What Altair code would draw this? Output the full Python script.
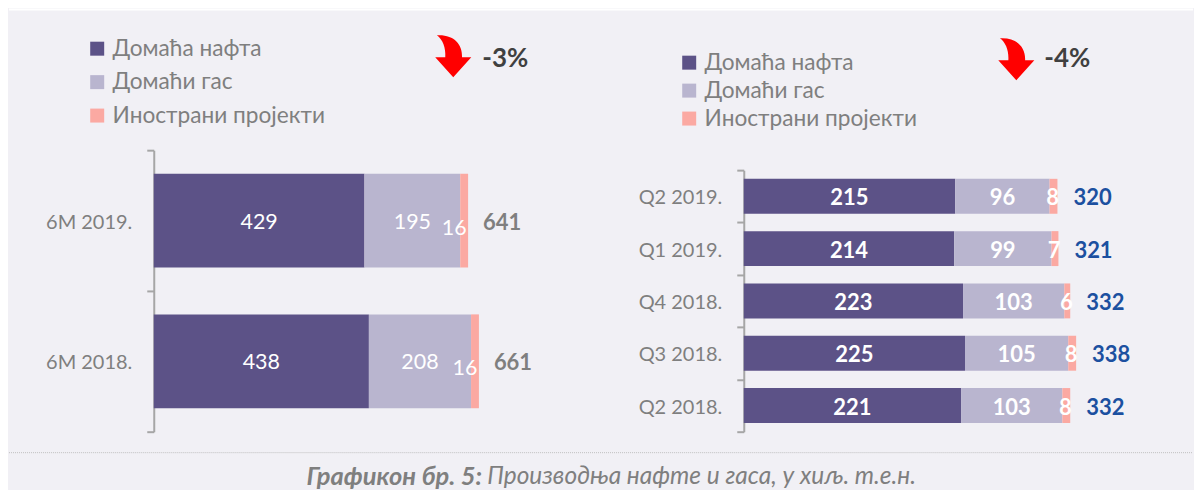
import altair as alt
import pandas as pd

FONT = "Lato"
series = ["Домаћа нафта", "Домаћи гас", "Инострани пројекти"]
colors = ["#5c5287", "#b9b5cf", "#fba9a2"]

left_periods = ["6М 2019.", "6М 2018."]
left_oil = [429, 438]
left_gas = [195, 208]
left_foreign = [16, 16]
left_total = [641, 661]

right_periods = ["Q2 2019.", "Q1 2019.", "Q4 2018.", "Q3 2018.", "Q2 2018."]
right_oil = [215, 214, 223, 225, 221]
right_gas = [96, 99, 103, 105, 103]
right_foreign = [8, 7, 6, 8, 8]
right_total = [320, 321, 332, 338, 332]

left_change = "-3%"
right_change = "-4%"
caption_bold = "Графикон бр. 5:"
caption_text = "Производња нафте и гаса, у хиљ. т.е.н."

ARROW = ("M -0.78,-1 C 0,-1.05 0.45,-0.6 0.42,0.05 L 0.86,0.05 L 0,1 L -0.86,0.05 "
         "L -0.38,0.05 C -0.35,-0.4 -0.5,-0.8 -0.78,-1 Z")


def segments(periods, oil, gas, foreign):
    rows = []
    for i, p in enumerate(periods):
        start = 0
        for s, v in zip(series, (oil[i], gas[i], foreign[i])):
            rows.append({"period": p, "series": s, "value": v, "start": start,
                         "end": start + v, "mid": start + v / 2})
            start += v
    return pd.DataFrame(rows)


def totals(periods, oil, gas, foreign, total):
    return pd.DataFrame({"period": periods, "total": total,
                         "end": [a + b + c for a, b, c in zip(oil, gas, foreign)]})


def panel(periods, oil, gas, foreign, total, change, *, width, height, x0, xmax, yrange, bar,
          legend_x, legend_y, row_pad, label_weight, label_size, total_color,
          total_size, small_dx, small_dy, total_dx, arrow_xy, change_xy):
    df = segments(periods, oil, gas, foreign)
    tdf = totals(periods, oil, gas, foreign, total)
    x_scale = alt.Scale(domain=[0, xmax], range=[x0, width], nice=False, zero=True)
    y = alt.Y("period:N", sort=periods, scale=alt.Scale(range=yrange, paddingInner=0, paddingOuter=0),
              axis=alt.Axis(title=None, offset=-x0, domainColor="#a6a6a6", domainWidth=2, tickColor="#a6a6a6",
                            tickWidth=2, tickSize=7, tickBand="extent", labelFont=FONT, labelFontSize=20,
                            labelColor="#7f7f7f", labelPadding=15, labelOffset=1.5, grid=False))
    bars = alt.Chart(df).mark_bar(size=bar).encode(
        x=alt.X("start:Q", scale=x_scale, axis=None), x2="end:Q", y=y,
        color=alt.Color("series:N", scale=alt.Scale(domain=series, range=colors),
                        legend=alt.Legend(title=None, orient="none", legendX=legend_x, legendY=legend_y,
                                          symbolType="square", symbolSize=196, symbolStrokeWidth=0,
                                          labelFont=FONT, labelFontSize=22.7, labelColor="#7f7f7f",
                                          labelOffset=4, labelLimit=400, rowPadding=row_pad)),
        order=alt.Order("start:Q"))
    big = alt.Chart(df[df.series != series[2]]).mark_text(
        font=FONT, fontSize=label_size, fontWeight=label_weight, color="white", dy=2
    ).encode(x=alt.X("mid:Q", scale=x_scale, axis=None), y=alt.Y("period:N", sort=periods), text="value:Q")
    small = alt.Chart(df[df.series == series[2]]).mark_text(
        font=FONT, fontSize=label_size, fontWeight=label_weight, color="white", dx=small_dx, dy=small_dy
    ).encode(x=alt.X("mid:Q", scale=x_scale, axis=None), y=alt.Y("period:N", sort=periods), text="value:Q")
    tot = alt.Chart(tdf).mark_text(
        font=FONT, fontSize=total_size, fontWeight="bold", color=total_color, align="left", dx=total_dx, dy=2
    ).encode(x=alt.X("end:Q", scale=x_scale, axis=None), y=alt.Y("period:N", sort=periods), text="total:Q")
    one = pd.DataFrame({"label": [change]})
    arrow = alt.Chart(one).mark_point(shape=ARROW, filled=True, color="#ff0000", opacity=1, size=1764, strokeWidth=0
                                      ).encode(x=alt.value(arrow_xy[0]), y=alt.value(arrow_xy[1]))
    pct = alt.Chart(one).mark_text(font=FONT, fontSize=26, fontWeight="bold", color="#404040", align="left"
                                   ).encode(x=alt.value(change_xy[0]), y=alt.value(change_xy[1]), text="label:N")
    return alt.layer(bars, big, small, tot, arrow, pct).properties(width=width, height=height)


left = panel(left_periods, left_oil, left_gas, left_foreign, left_total, left_change,
             width=592, height=432, x0=145, xmax=(592 - 145) / 0.492, yrange=[130, 412], bar=94,
             legend_x=77, legend_y=17, row_pad=9.5, label_weight="normal", label_size=21.5,
             total_color="#7f7f7f", total_size=22, small_dx=-10, small_dy=8, total_dx=15,
             arrow_xy=(445, 36), change_xy=(474, 39))
right = panel(right_periods, right_oil, right_gas, right_foreign, right_total, right_change,
              width=594, height=432, x0=144, xmax=(594 - 144) / 0.985, yrange=[150, 412], bar=35,
              legend_x=78, legend_y=31, row_pad=4, label_weight="bold", label_size=22,
              total_color="#1c50a0", total_size=22, small_dx=-1, small_dy=2, total_dx=16,
              arrow_xy=(417, 39), change_xy=(445, 39))

top = alt.Chart(pd.DataFrame({"a": [0]})).mark_rule(color="white", strokeWidth=2).encode(
    x=alt.value(0), x2=alt.value(1186), y=alt.value(1)).properties(width=1186, height=2)

cap = pd.DataFrame({"bold": [caption_bold], "text": [caption_text]})
foot_rule = alt.Chart(cap).mark_rule(color="#bfbfbf", strokeWidth=1, strokeDash=[1, 1]).encode(
    x=alt.value(0), x2=alt.value(1186), y=alt.value(1))
foot_a = alt.Chart(cap).mark_text(font=FONT, fontSize=25.5, fontWeight="bold", fontStyle="italic", color="#7f7f7f",
                                  align="right").encode(x=alt.value(474), y=alt.value(25), text="bold:N")
foot_b = alt.Chart(cap).mark_text(font=FONT, fontSize=24.5, fontStyle="italic", color="#7f7f7f",
                                  align="left").encode(x=alt.value(479), y=alt.value(25), text="text:N")
footer = alt.layer(foot_rule, foot_a, foot_b).properties(width=1186, height=38)

chart = alt.vconcat(top, alt.hconcat(left, right, spacing=0).resolve_scale(color="independent", x="independent", y="independent"),
                    footer, spacing=0).properties(background="#f1f0f5", padding=0).configure_view(stroke=None)
chart.save("out.html", embed_options={"renderer": "svg", "actions": False})
